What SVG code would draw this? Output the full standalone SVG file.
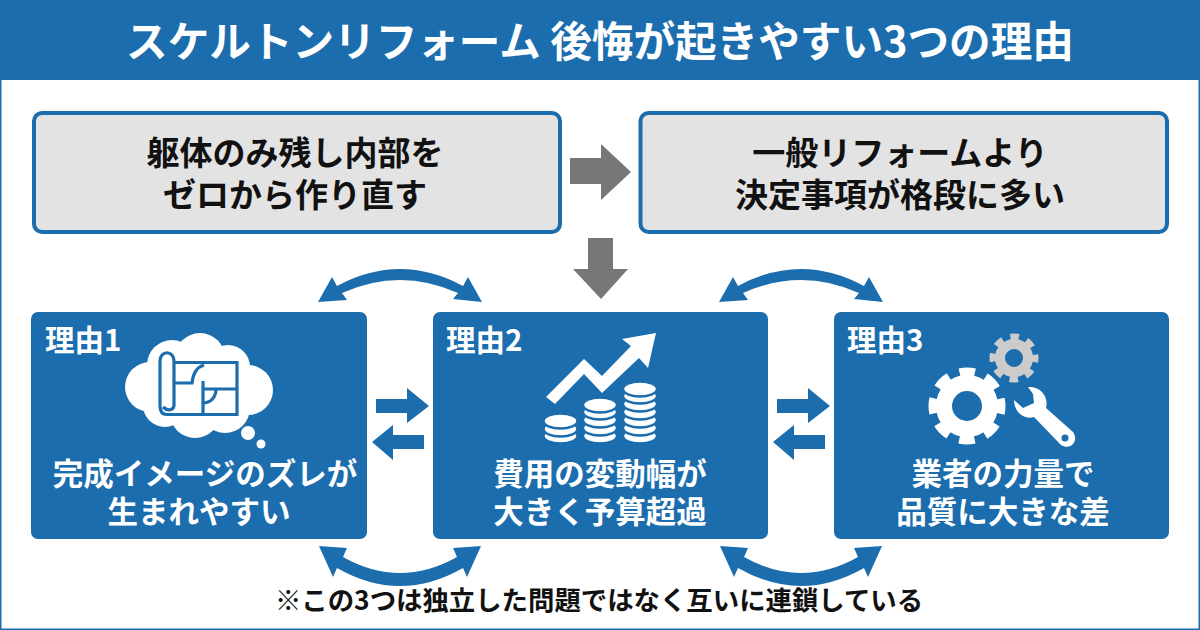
<svg xmlns="http://www.w3.org/2000/svg" xmlns:xlink="http://www.w3.org/1999/xlink" width="1200" height="630" viewBox="0 0 1200 630">
<style>
text{font-family:"Noto Sans CJK JP","Noto Sans",sans-serif;font-weight:700}
.title{font-size:41.6px;fill:#fff;text-anchor:middle}
.top{font-size:33px;fill:#111;text-anchor:middle}
.low{font-size:30.5px;fill:#fff;text-anchor:middle}
.lab{font-size:29.5px;fill:#fff}
.note{font-size:26.4px;fill:#111;text-anchor:middle}
.tbox{fill:#e3e3e3;stroke:#1b6dad;stroke-width:4}
.rbox{fill:#1b6dad}
.blue{fill:#1b6dad}
.gray{fill:#777}
</style>
<defs>
<path id="dt" d="M318,302L332,277L337,286Q400,252 463,286L468,277L482,302L453,299L458,293Q400,267 342,293L347,300Z"/>
<path id="db" d="M319,546L347,548L343,557Q400,589 457,557L453,548L481,546L467,577L463,568Q400,604 337,568L333,577Z"/>
<g id="pair">
<path d="M376,399H407V388L429,406L407,423V413H376Z"/>
<path d="M372,442L393,425V435H424V449H393V460Z"/>
</g>
<g id="coin"><ellipse cx="0" cy="0" rx="17" ry="7.5" fill="#fff" stroke="#1b6dad" stroke-width="2.5"/></g>
</defs>
<rect x="0" y="0" width="1200" height="630" fill="#fff"/>
<rect x="0" y="0" width="1200" height="630" fill="none" stroke="#1b6dad" stroke-width="3"/>
<g id="header">
<rect x="0" y="0" width="1200" height="80" fill="#1b6dad"/>
<text class="title" x="600" y="57">スケルトンリフォーム 後悔が起きやすい3つの理由</text>
</g>
<g id="connectors">
<path class="gray" d="M570,158H601V144L631,172L601,200V184H570Z"/>
<path class="gray" d="M588,238H613V269H628L601,299L573,269H588Z"/>
<g class="blue">
<use xlink:href="#dt" href="#dt"/>
<use xlink:href="#dt" href="#dt" x="401"/>
<use xlink:href="#db" href="#db"/>
<use xlink:href="#db" href="#db" x="401"/>
<use xlink:href="#pair" href="#pair"/>
<use xlink:href="#pair" href="#pair" x="401"/>
</g>
</g>
<g id="box-a">
<rect class="tbox" x="34" y="113" width="526" height="119" rx="8"/>
<text class="top" x="295" y="165">躯体のみ残し内部を</text>
<text class="top" x="295" y="207">ゼロから作り直す</text>
</g>
<g id="box-b">
<rect class="tbox" x="640.5" y="113" width="526.5" height="119" rx="8"/>
<text class="top" x="900" y="165">一般リフォームより</text>
<text class="top" x="900" y="207">決定事項が格段に多い</text>
</g>
<g id="reason-1">
<rect class="rbox" x="31" y="312" width="336" height="227" rx="7"/>
<text class="lab" x="45" y="351">理由1</text>
<g fill="#fff">
<circle cx="150" cy="387" r="25"/><circle cx="172" cy="365" r="25"/><circle cx="200" cy="358" r="25"/><circle cx="228" cy="367" r="22"/><circle cx="248" cy="390" r="25"/><circle cx="225" cy="408" r="25"/><circle cx="195" cy="413" r="25"/><circle cx="165" cy="405" r="22"/><rect x="160" y="365" width="70" height="40"/>
<circle cx="248" cy="433" r="7"/><circle cx="261" cy="444" r="4.5"/>
</g>
<g fill="none" stroke="#1b6dad" stroke-width="3.2">
<path d="M174,362.5H237V414.5H167C161,414.5 160,410 160,406V361C160,350 174,350 174,361V405C174,410 168,412 163,407"/>
<path d="M175,383H192C193,374 197,367 204,365"/>
<path d="M203,414V381M203,389H237"/>
<path d="M203,403C210,403 216,398 216,389"/>
</g>
</g>
<g id="reason-2">
<rect class="rbox" x="433" y="312" width="335" height="227" rx="7"/>
<text class="lab" x="446" y="351">理由2</text>
<path fill="#fff" d="M546,397L584,359L602,376L631,346L622,339L656,333L648,368L639,358L602,393L584,374L555,404Z"/>
<g>
<use xlink:href="#coin" href="#coin" x="560.5" y="436"/><use xlink:href="#coin" href="#coin" x="560.5" y="429"/><use xlink:href="#coin" href="#coin" x="560.5" y="421"/>
<use xlink:href="#coin" href="#coin" x="600" y="436"/><use xlink:href="#coin" href="#coin" x="600" y="428"/><use xlink:href="#coin" href="#coin" x="600" y="420"/><use xlink:href="#coin" href="#coin" x="600" y="412"/><use xlink:href="#coin" href="#coin" x="600" y="405"/>
<use xlink:href="#coin" href="#coin" x="640" y="436"/><use xlink:href="#coin" href="#coin" x="640" y="428"/><use xlink:href="#coin" href="#coin" x="640" y="420"/><use xlink:href="#coin" href="#coin" x="640" y="412"/><use xlink:href="#coin" href="#coin" x="640" y="404"/><use xlink:href="#coin" href="#coin" x="640" y="396"/><use xlink:href="#coin" href="#coin" x="640" y="389"/>
</g>
</g>
<g id="reason-3">
<rect class="rbox" x="834" y="312" width="335" height="227" rx="7"/>
<text class="lab" x="847" y="351">理由3</text>
<g fill="none">
<circle cx="1014" cy="358" r="14" stroke="#ccc" stroke-width="10"/>
<circle cx="1014" cy="358" r="21" stroke="#ccc" stroke-width="7" stroke-dasharray="8.5 7.99" stroke-dashoffset="4.25"/>
<circle cx="967" cy="406" r="23" stroke="#fff" stroke-width="16"/>
<circle cx="967" cy="406" r="32" stroke="#fff" stroke-width="13" stroke-dasharray="14.5 10.63" stroke-dashoffset="7.25"/>
</g>
<path fill="#fff" d="M1028,387C1040,386 1049,396 1046,408L1073,432C1076,436 1076,442 1072,445C1068,448 1063,447 1060,444L1034,417C1024,420 1014,412 1014,400L1023,408L1034,403L1033,394Z"/>
<circle cx="1065" cy="438" r="3.5" fill="#1b6dad"/>
</g>
<g id="texts">
<text class="low" x="205" y="485">完成イメージのズレが</text>
<text class="low" x="199" y="523">生まれやすい</text>
<text class="low" x="600" y="485">費用の変動幅が</text>
<text class="low" x="600" y="523">大きく予算超過</text>
<text class="low" x="1003" y="485">業者の力量で</text>
<text class="low" x="1003" y="523">品質に大きな差</text>
<text class="note" x="599" y="610">※この3つは独立した問題ではなく互いに連鎖している</text>
</g>
</svg>
